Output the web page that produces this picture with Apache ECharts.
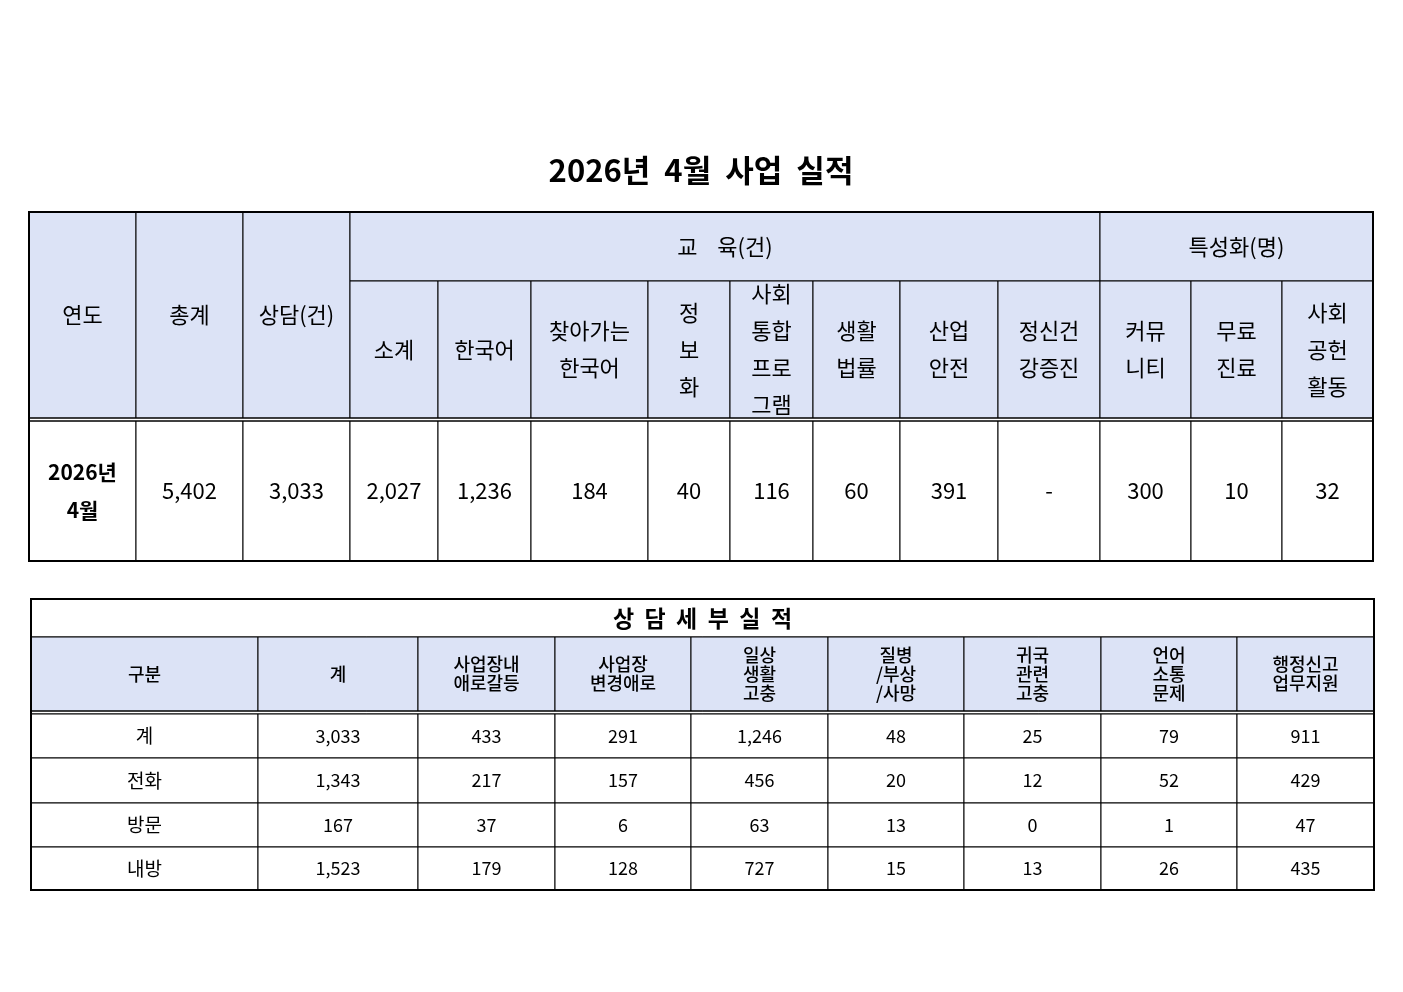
<!DOCTYPE html>
<html><head><meta charset="utf-8">
<script src="https://cdn.jsdelivr.net/npm/echarts@6/dist/echarts.min.js"></script>
<style>html,body{margin:0;padding:0;background:#fff}#c{width:1403px;height:992px}</style>
</head><body><div id="c"></div>
<script>
const title = '2026년  4월  사업  실적';
const t1Top = ['연도', '총계', '상담(건)'];
const t1GroupEdu = '교    육(건)';
const t1GroupSpec = '특성화(명)';
const t1Sub = ['소계', '한국어', '찾아가는\n한국어', '정\n보\n화', '사회\n통합\n프로\n그램', '생활\n법률', '산업\n안전', '정신건\n강증진', '커뮤\n니티', '무료\n진료', '사회\n공헌\n활동'];
const t1RowLabel = '2026년\n4월';
const t1Values = ['5,402', '3,033', '2,027', '1,236', '184', '40', '116', '60', '391', '-', '300', '10', '32'];

const t2Title = '상  담  세  부  실  적';
const t2Head = ['구분', '계', '사업장내\n애로갈등', '사업장\n변경애로', '일상\n생활\n고충', '질병\n/부상\n/사망', '귀국\n관련\n고충', '언어\n소통\n문제', '행정신고\n업무지원'];
const t2Rows = ['계', '전화', '방문', '내방'];
const t2Values = [
  ['3,033', '433', '291', '1,246', '48', '25', '79', '911'],
  ['1,343', '217', '157', '456', '20', '12', '52', '429'],
  ['167', '37', '6', '63', '13', '0', '1', '47'],
  ['1,523', '179', '128', '727', '15', '13', '26', '435']
];

const HEAD = '#dce3f6';
const FONT = '"Noto Sans CJK KR","Noto Sans",sans-serif';
const g = [];
function cell(x0, y0, x1, y1, fill, text, size, weight, lh) {
  g.push({type: 'rect', shape: {x: x0, y: y0, width: x1 - x0, height: y1 - y0},
    style: {fill: fill, stroke: '#000', lineWidth: 1}});
  if (text !== undefined) g.push({type: 'text', x: (x0 + x1) / 2, y: (y0 + y1) / 2,
    style: {text: text, align: 'center', verticalAlign: 'middle', fontSize: size, fontWeight: weight || 'normal',
      fontFamily: FONT, lineHeight: lh || size * 1.3, fill: '#000'}});
}
function frame(x0, y0, x1, y1) {
  g.push({type: 'rect', shape: {x: x0, y: y0, width: x1 - x0, height: y1 - y0},
    style: {fill: 'none', stroke: '#000', lineWidth: 2}});
}
function hline(x0, x1, y) {
  g.push({type: 'line', shape: {x1: x0, y1: y, x2: x1, y2: y}, style: {stroke: '#000', lineWidth: 1}});
}

g.push({type: 'text', x: 701, y: 170, style: {text: title, align: 'center', verticalAlign: 'middle',
  fontSize: 31, fontWeight: 'bold', fontFamily: FONT, fill: '#000'}});

// Table 1
const c1 = [29, 136, 243, 350, 438, 531, 648, 730, 813, 900, 998, 1100, 1191, 1282, 1373];
const y1a = 212, y1b = 281, y1c = 418, y1d = 421, y1e = 561;
for (let i = 0; i < 3; i++) cell(c1[i], y1a, c1[i + 1], y1c, HEAD, t1Top[i], 22, 'normal');
cell(c1[3], y1a, c1[11], y1b, HEAD, t1GroupEdu, 22);
cell(c1[11], y1a, c1[14], y1b, HEAD, t1GroupSpec, 22);
for (let i = 0; i < t1Sub.length; i++) cell(c1[i + 3], y1b, c1[i + 4], y1c, HEAD, t1Sub[i], 22, 'normal', 37);
cell(c1[0], y1d, c1[1], y1e, '#fff', t1RowLabel, 21, 'bold', 38);
for (let i = 0; i < t1Values.length; i++) cell(c1[i + 1], y1d, c1[i + 2], y1e, '#fff', t1Values[i], 22);
hline(c1[0], c1[14], y1c); hline(c1[0], c1[14], y1d);
frame(c1[0], y1a, c1[14], y1e);

// Table 2
const c2 = [31, 258, 418, 555, 691, 828, 964, 1101, 1237, 1374];
const r2 = [714, 758, 803, 847, 890];
cell(c2[0], 599, c2[9], 637, '#fff', t2Title, 23, 'bold');
for (let i = 0; i < t2Head.length; i++) cell(c2[i], 637, c2[i + 1], 711, HEAD, t2Head[i], 18, 500, 19);
hline(c2[0], c2[9], 711); hline(c2[0], c2[9], 714);
for (let r = 0; r < t2Rows.length; r++) {
  cell(c2[0], r2[r], c2[1], r2[r + 1], '#fff', t2Rows[r], 19);
  for (let i = 0; i < t2Values[r].length; i++) cell(c2[i + 1], r2[r], c2[i + 2], r2[r + 1], '#fff', t2Values[r][i], 18);
}
frame(c2[0], 599, c2[9], 890);

const chart = echarts.init(document.getElementById('c'));
chart.setOption({animation: false, graphic: g});
</script></body></html>
